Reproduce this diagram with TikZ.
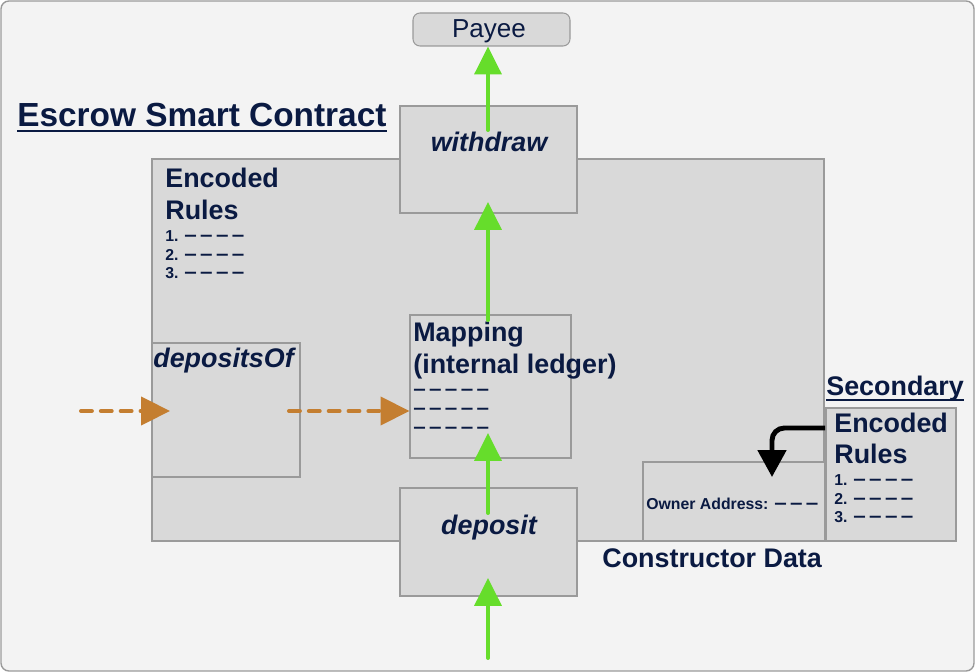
\documentclass[tikz,border=0pt]{standalone}
\usepackage{fontspec}
\setmainfont{Liberation Sans}
\usetikzlibrary{arrows.meta,fit}

\definecolor{navy}{HTML}{0A1A42}
\definecolor{panel}{HTML}{F3F3F3}
\definecolor{boxfill}{HTML}{D9D9D9}
\definecolor{boxline}{HTML}{9A9A9A}
\definecolor{flowgreen}{HTML}{66DD2B}
\definecolor{flowbrown}{HTML}{C47E30}

\newcommand{\gapdash}{\scalebox{1.14}[1]{\fontsize{11.2}{12}\selectfont\char"2013}\kern1.9pt}

\begin{document}
\begin{tikzpicture}[x=0.02cm, y=-0.02cm,
    every node/.style={text=navy, inner sep=0pt},
    box/.style={draw=boxline, fill=boxfill, line width=0.6pt, inner sep=0pt},
    big/.style={font=\bfseries\fontsize{15.3}{18}\selectfont},
    fn/.style={font=\bfseries\itshape\fontsize{15.3}{18}\selectfont},
    small/.style={font=\bfseries\fontsize{9}{11}\selectfont},
    uline/.style={draw=navy, line width=1.1pt},
    greenflow/.style={draw=flowgreen, line width=2.27pt, line cap=round,
        -{Triangle[length=15.9pt, width=15.3pt]}},
    brownflow/.style={draw=flowbrown, line width=2.27pt, line cap=round,
        dash pattern=on 6.2pt off 5.1pt, -{Triangle[length=16.4pt, width=15.9pt]}},
    blackflow/.style={draw=black, line width=2.8pt, rounded corners=7pt,
        -{Triangle[length=15.3pt, width=15.9pt]}}]

        \useasboundingbox (0,0) rectangle (975,672);
        \draw [draw=boxline, fill=panel, rounded corners=4.5pt, line width=0.8pt] (1,1) rectangle (974,671);

        % title and payee
        \node [font=\bfseries\fontsize{19}{22}\selectfont, anchor=base west] (title) at (17,127) {Escrow Smart Contract};
        \draw [uline] ([yshift=-2.3pt]title.base west) -- ([yshift=-2.3pt]title.base east);

        \node [box, rounded corners=4pt, fit={(413,13) (570,46)}] (payee) {};
        \node [font=\fontsize{14.8}{17}\selectfont, anchor=base] (payeetxt) at (489,38) {Payee};

        % contract body
        \node [box, fit={(152,159) (824,541)}] (contract) {};
        \node [big, anchor=base west] (enc1) at (165,188) {Encoded};
        \node [big, anchor=base west] (enc2) at (165,220) {Rules};
        \node [small, anchor=base west] (rule1) at (165,242) {1. \gapdash\gapdash\gapdash\gapdash};
        \node [small, anchor=base west] (rule2) at (165,261) {2. \gapdash\gapdash\gapdash\gapdash};
        \node [small, anchor=base west] (rule3) at (165,279) {3. \gapdash\gapdash\gapdash\gapdash};

        \node [box, fit={(400,106) (577,213)}] (withdraw) {};
        \node [fn, anchor=base] (wdtxt) at (489,152) {withdraw};

        \node [box, fit={(152,343) (300,477)}] (depof) {};
        \node [fn, anchor=base west] (depoftxt) at (153,368) {depositsOf};

        \node [box, fit={(410,315) (571,458)}] (ledger) {};
        \node [big, anchor=base west] (map1) at (413,342) {Mapping};
        \node [big, anchor=base west] (map2) at (413,374) {(internal ledger)};
        \node [small, anchor=base west] (row1) at (413,396) {\gapdash\gapdash\gapdash\gapdash\gapdash};
        \node [small, anchor=base west] (row2) at (413,415) {\gapdash\gapdash\gapdash\gapdash\gapdash};
        \node [small, anchor=base west] (row3) at (413,434) {\gapdash\gapdash\gapdash\gapdash\gapdash};

        \node [box, fit={(400,488) (577,596)}] (deposit) {};
        \node [fn, anchor=base] (deptxt) at (489,535) {deposit};

        % constructor data
        \node [box, fit={(643,462) (825,541)}] (owner) {};
        \node [small, anchor=base west] (ownertxt) at (646,510) {Owner Address: \gapdash\gapdash\gapdash};
        \node [big, anchor=base west] (ctordata) at (602,568) {Constructor Data};

        \node [box, fit={(826,408) (956,541)}] (secrules) {};
        \node [big, anchor=base west] (sechead) at (826,396) {Secondary};
        \draw [uline] ([yshift=-2.3pt]sechead.base west) -- ([yshift=-2.3pt]sechead.base east);
        \node [big, anchor=base west] (senc1) at (834,433) {Encoded};
        \node [big, anchor=base west] (senc2) at (834,464) {Rules};
        \node [small, anchor=base west] (srule1) at (834,486) {1. \gapdash\gapdash\gapdash\gapdash};
        \node [small, anchor=base west] (srule2) at (834,505) {2. \gapdash\gapdash\gapdash\gapdash};
        \node [small, anchor=base west] (srule3) at (834,523) {3. \gapdash\gapdash\gapdash\gapdash};

        % flows
        \coordinate (wdfrom) at (488,130);
        \coordinate (mapfrom) at (488,320);
        \coordinate (wdin) at (488,202);
        \coordinate (depfrom) at (488,513);
        \coordinate (mapin) at (488,433);
        \coordinate (feed) at (488,658);
        \coordinate (depin) at (488,578);
        \coordinate (callin) at (81,411);
        \coordinate (depofin) at (170,411);
        \coordinate (depofout) at (289,411);
        \coordinate (secout) at (825,428);
        \coordinate (ownerin) at (772,477);

        \draw [greenflow] (wdfrom) -- (wdfrom |- payee.south);
        \draw [greenflow] (mapfrom) -- (wdin);
        \draw [greenflow] (depfrom) -- (mapin);
        \draw [greenflow] (feed) -- (depin);
        \draw [brownflow] (callin) -- (depofin);
        \draw [brownflow] (depofout) -- (depofout -| ledger.west);
        \draw [blackflow] (secout) -| (ownerin);
      \end{tikzpicture}
\end{document}
